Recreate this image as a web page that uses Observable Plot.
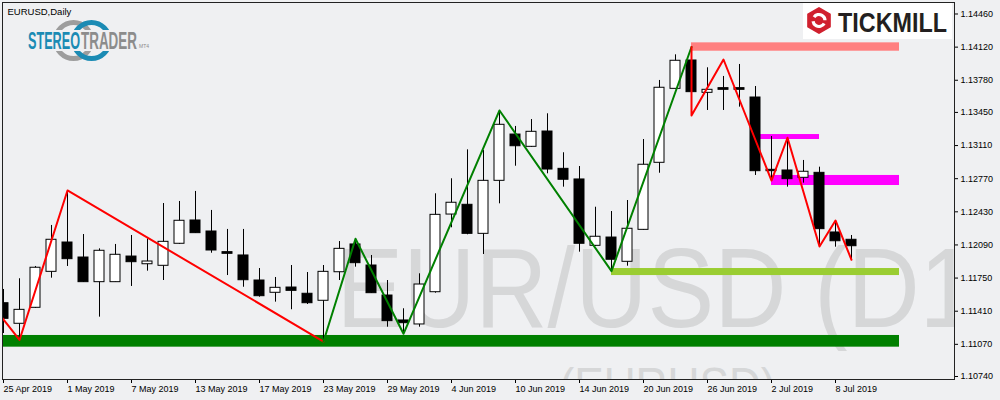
<!DOCTYPE html>
<html><head><meta charset="utf-8">
<script src="https://cdn.jsdelivr.net/npm/d3@7"></script>
<script src="https://cdn.jsdelivr.net/npm/@observablehq/plot@0.6"></script>
<style>html,body{margin:0;padding:0;background:#eff0f2;} #chart{width:1000px;height:400px;overflow:hidden;}</style>
</head><body><div id="chart"></div>
<script>
// ---- data ----
const dates = ["2019-04-25","2019-04-26","2019-04-29","2019-04-30","2019-05-01","2019-05-02","2019-05-03","2019-05-06","2019-05-07","2019-05-08",
"2019-05-09","2019-05-10","2019-05-13","2019-05-14","2019-05-15","2019-05-16","2019-05-17","2019-05-20","2019-05-21","2019-05-22",
"2019-05-23","2019-05-24","2019-05-27","2019-05-28","2019-05-29","2019-05-30","2019-05-31","2019-06-03","2019-06-04","2019-06-05",
"2019-06-06","2019-06-07","2019-06-10","2019-06-11","2019-06-12","2019-06-13","2019-06-14","2019-06-17","2019-06-18","2019-06-19",
"2019-06-20","2019-06-21","2019-06-24","2019-06-25","2019-06-26","2019-06-27","2019-06-28","2019-07-01","2019-07-02","2019-07-03",
"2019-07-04","2019-07-05","2019-07-08","2019-07-09"];
const open = [1.11492,1.11281,1.11445,1.11814,1.12115,1.11961,1.11708,1.11708,1.11971,1.11892,
1.11876,1.12102,1.12341,1.12228,1.12016,1.11982,1.11725,1.11599,1.11653,1.11589,
1.11517,1.11810,1.12095,1.11879,1.11571,1.11315,1.11274,1.11605,1.12402,1.12502,
1.12204,1.12748,1.13223,1.13097,1.13254,1.12871,1.12762,1.12081,1.12166,1.11917,
1.12245,1.12933,1.13692,1.13983,1.13651,1.13699,1.13699,1.13603,1.12861,1.12854,
1.12779,1.12830,1.12218,1.12143];
const high = [1.11633,1.11743,1.11869,1.12290,1.12649,1.12197,1.12050,1.12095,1.12187,1.12153,
1.12515,1.12536,1.12639,1.12444,1.12249,1.12249,1.11848,1.11756,1.11879,1.11807,
1.11879,1.12125,1.12153,1.11982,1.11725,1.11435,1.11794,1.12615,1.12769,1.13066,
1.13059,1.13470,1.13306,1.13377,1.13436,1.13036,1.12895,1.12477,1.12433,1.12546,
1.13172,1.13778,1.14041,1.14121,1.13908,1.13819,1.13942,1.13716,1.13203,1.13190,
1.12957,1.12888,1.12341,1.12187];
const low = [1.11181,1.11115,1.11438,1.11749,1.11869,1.11705,1.11349,1.11705,1.11664,1.11821,
1.11725,1.12095,1.12208,1.12005,1.11776,1.11656,1.11554,1.11503,1.11425,1.11479,
1.11099,1.11725,1.11862,1.11592,1.11246,1.11178,1.11246,1.11595,1.12266,1.12194,
1.11992,1.12512,1.12898,1.13090,1.12820,1.12683,1.12016,1.12074,1.11821,1.11872,
1.12240,1.12826,1.13690,1.13418,1.13470,1.13470,1.13504,1.12803,1.12751,1.12683,
1.12724,1.12074,1.12067,1.11938];
const close = [1.11332,1.11424,1.11856,1.12143,1.11944,1.11708,1.12030,1.11989,1.11913,1.11920,
1.12122,1.12338,1.12211,1.12033,1.11999,1.11728,1.11564,1.11650,1.11619,1.11492,
1.11814,1.12050,1.11903,1.11595,1.11308,1.11287,1.11684,1.12399,1.12523,1.12204,
1.12748,1.13323,1.13103,1.13251,1.12864,1.12759,1.12102,1.12174,1.11938,1.12256,
1.12913,1.13703,1.13980,1.13658,1.13682,1.13682,1.13682,1.12847,1.12847,1.12765,
1.12841,1.12252,1.12128,1.12077];

const yTicks = [1.1446,1.1412,1.1378,1.1345,1.1311,1.1277,1.1243,1.1209,1.1175,1.1141,1.1107,1.1074];
const xTickDates = ["2019-04-25","2019-05-01","2019-05-07","2019-05-13","2019-05-17","2019-05-23","2019-05-29",
"2019-06-04","2019-06-10","2019-06-14","2019-06-20","2019-06-26","2019-07-02","2019-07-08"];

// zigzag pivots
const zigRedADates = ["2019-04-24","2019-04-26","2019-05-01","2019-05-23"];
const zigRedAPrices = [1.11535,1.11115,1.12649,1.11099];
const zigGreenDates = ["2019-05-23","2019-05-27","2019-05-30","2019-06-07","2019-06-18","2019-06-25"];
const zigGreenPrices = [1.11099,1.12153,1.11178,1.13470,1.11821,1.14121];
const zigRedBDates = ["2019-06-25","2019-06-25","2019-06-27","2019-07-02","2019-07-03","2019-07-05","2019-07-08","2019-07-09"];
const zigRedBPrices = [1.14121,1.13418,1.13993,1.12751,1.13190,1.12074,1.12341,1.11938];

// zones (rectangles)
const zoneNames = ["support2","support1","resistance2","resistance1","high"];
const zoneStart = ["2019-04-22","2019-06-18","2019-07-02","2019-07-01","2019-06-25"];
const zoneEnd = ["2019-07-12","2019-07-12","2019-07-12","2019-07-05","2019-07-12"];
const zoneTop = [1.11161,1.11848,1.12803,1.13223,1.14164];
const zoneBottom = [1.11041,1.11776,1.12700,1.13172,1.14078];

// ---- helpers ----
const idxMap = new Map(dates.map((d, i) => [d, i]));
function barIndex(s) {
  if (idxMap.has(s)) return idxMap.get(s);
  const t = new Date(s + "T00:00Z");
  const first = new Date(dates[0] + "T00:00Z"), last = new Date(dates[dates.length - 1] + "T00:00Z");
  if (t > last) {
    let n = dates.length - 1, d = new Date(last);
    while (d < t) { d.setUTCDate(d.getUTCDate() + 1); const w = d.getUTCDay(); if (w !== 0 && w !== 6) n++; }
    return n;
  } else {
    let n = 0, d = new Date(first);
    while (d > t) { d.setUTCDate(d.getUTCDate() - 1); const w = d.getUTCDay(); if (w !== 0 && w !== 6) n--; }
    return n;
  }
}
const fmtDate = d3.utcFormat("%-d %b %Y");

const candles = dates.map((d, i) => ({i, date: d, open: open[i], high: high[i], low: low[i], close: close[i]}));
const zig = (ds, ps) => ds.map((d, k) => ({x: barIndex(d), y: ps[k]}));
const redA = zig(zigRedADates, zigRedAPrices);
const green = zig(zigGreenDates, zigGreenPrices);
const redB = zig(zigRedBDates, zigRedBPrices);
const zones = zoneNames.map((n, k) => ({name: n, x1: barIndex(zoneStart[k]), x2: barIndex(zoneEnd[k]), y1: zoneBottom[k], y2: zoneTop[k]}));
const zoneColors = {support2: "#008000", support1: "#9acd32", resistance2: "#ff00ff", resistance1: "#ff00ff", high: "#ff8080"};

const BG = "#eff0f2";
const FONT = "'Liberation Sans', Arial, sans-serif";
const W = 1000, H = 400, mL = 2, mR = 46, mT = 2, mB = 21;
const pxPerBar = 16, x0px = 3;
const xDomain = [(mL - x0px) / pxPerBar, (W - mR - x0px) / pxPerBar];
const k = 0.00010262, p0 = 1.145985;
const yDomain = [p0 - (H - mB) * k, p0 - mT * k];

const svg = Plot.plot({
  width: W, height: H,
  marginLeft: mL, marginRight: mR, marginTop: mT, marginBottom: mB,
  style: {background: BG, fontFamily: FONT, fontSize: "9px", color: "#000", overflow: "hidden"},
  x: {type: "linear", domain: xDomain},
  y: {type: "linear", domain: yDomain},
  marks: [
    Plot.text(["EUR/USD (D1)"], {text: d => d, frameAnchor: "top-left", textAnchor: "start", lineAnchor: "bottom",
      dx: 336 - mL, dy: 326.5 - mT, fontSize: 114, fill: "#d6d7d8", clip: true}),
    Plot.text(["(EURUSD)"], {text: d => d, frameAnchor: "top-left", textAnchor: "start", lineAnchor: "bottom",
      dx: 559 - mL, dy: 402 - mT, fontSize: 50, fill: "#d6d7d8", clip: true}),
    Plot.rect(zones, {x1: "x1", x2: "x2", y1: "y1", y2: "y2", fill: d => zoneColors[d.name], clip: true}),
    Plot.ruleX(candles, {x: "i", y1: "low", y2: "high", stroke: "#000", strokeWidth: 1, clip: true}),
    Plot.rect(candles, {x1: d => d.i - 5 / pxPerBar, x2: d => d.i + 5 / pxPerBar, y1: "open", y2: "close",
      fill: d => d.close >= d.open ? "#ffffff" : "#000000", stroke: "#000", strokeWidth: 1, clip: true}),
    Plot.line(redA, {x: "x", y: "y", stroke: "#ff0000", strokeWidth: 2, clip: true}),
    Plot.line(green, {x: "x", y: "y", stroke: "#008000", strokeWidth: 2, clip: true}),
    Plot.line(redB, {x: "x", y: "y", stroke: "#ff0000", strokeWidth: 2, clip: true}),
    Plot.axisY({anchor: "right", ticks: yTicks, tickFormat: d3.format(".5f"), tickSize: 3, tickPadding: 3, label: null, stroke: "#000"}),
    Plot.axisX({anchor: "bottom", ticks: xTickDates.map(barIndex), tickFormat: i => fmtDate(new Date(dates[i] + "T00:00Z")),
      tickSize: 4, tickPadding: 2, textAnchor: "start", label: null, stroke: "#000"}),
    Plot.frame({stroke: "#222"}),
    Plot.text(["EURUSD,Daily"], {text: d => d, frameAnchor: "top-left", textAnchor: "start", lineAnchor: "bottom",
      dx: 5, dy: 12.5, fontSize: 9.5, fill: "#000"})
  ]
});
document.getElementById("chart").appendChild(svg);

const s = d3.select(svg);
s.selectAll("text").filter(function () { return this.textContent === "EUR/USD (D1)"; })
  .attr("textLength", 672).attr("lengthAdjust", "spacingAndGlyphs");
s.selectAll("text").filter(function () { return this.textContent === "(EURUSD)"; })
  .attr("textLength", 216).attr("lengthAdjust", "spacingAndGlyphs");

function label(g, x, y, size, weight, fill, len, txt) {
  const t = g.append("text").attr("x", x).attr("y", y).attr("font-family", FONT).attr("font-weight", weight)
    .attr("font-size", size).attr("fill", fill).attr("text-anchor", "start").text(txt);
  if (len) t.attr("textLength", len).attr("lengthAdjust", "spacingAndGlyphs");
  return t;
}

// ---- StereoTrader logo ----
const lg = s.append("g");
lg.append("circle").attr("cx", 73.5).attr("cy", 40.5).attr("r", 18).attr("fill", "none").attr("stroke", "#9d9d9d").attr("stroke-width", 5);
lg.append("circle").attr("cx", 91.5).attr("cy", 40.5).attr("r", 18).attr("fill", "none").attr("stroke", "#1b8bb4").attr("stroke-width", 5);
lg.append("rect").attr("x", 26).attr("y", 30).attr("width", 126).attr("height", 21).attr("fill", BG);
label(lg, 28, 49, 24, "bold", "#1b8bb4", 52, "STEREO");
label(lg, 81, 49, 24, "bold", "#8c8c8c", 56, "TRADER");
label(lg, 139, 48, 5, "normal", "#8c8c8c", 0, "MT4");

// ---- Tickmill logo ----
const tg = s.append("g");
tg.append("rect").attr("x", 803).attr("y", 3).attr("width", 149).attr("height", 36).attr("fill", "#ffffff");
const hex = d3.range(6).map(j => { const a = Math.PI / 3 * j - Math.PI / 2; return [819 + 12.5 * Math.cos(a), 20.5 + 12.5 * Math.sin(a)]; });
tg.append("path").attr("d", "M" + hex.map(p => p.join(",")).join("L") + "Z").attr("fill", "#d0202e")
  .attr("stroke", "#d0202e").attr("stroke-width", 2).attr("stroke-linejoin", "round");
tg.append("circle").attr("cx", 819).attr("cy", 20.5).attr("r", 6).attr("fill", "none").attr("stroke", "#ffffff")
  .attr("stroke-width", 3.2).attr("stroke-dasharray", "14.5 4.35").attr("transform", "rotate(30 819 20.5)");
label(tg, 838, 31.7, 28, "bold", "#231f20", 109, "TICKMILL");
</script>
</body></html>
